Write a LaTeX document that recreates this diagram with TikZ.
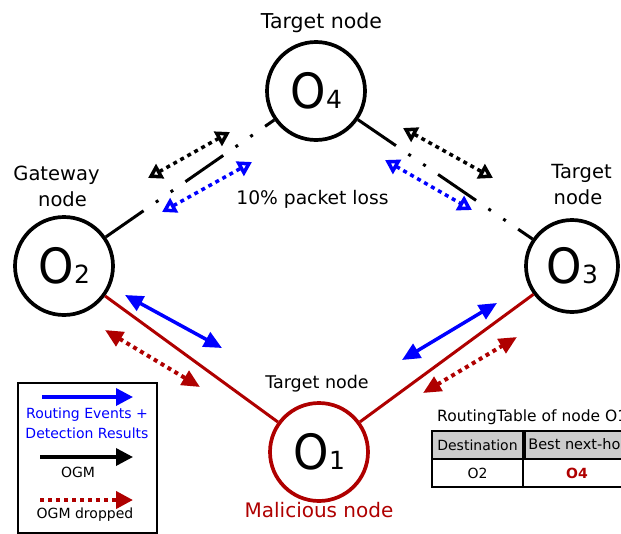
\documentclass[tikz,border=0pt]{standalone}
\usepackage{fontspec}
\setmainfont{DejaVu Sans}
\usetikzlibrary{arrows.meta}
\definecolor{dred}{RGB}{175,0,0}
\definecolor{pblue}{RGB}{0,0,255}
\definecolor{hgray}{RGB}{204,204,204}
\newcommand\onum[1]{{\fontsize{45}{45}\selectfont\scalebox{1}[1.08]{O}}\kern0.5pt{\fontsize{25}{25}\selectfont #1}}
\begin{document}
\begin{tikzpicture}[x=1pt,y=-1pt,
  onode/.style={circle, draw, line width=3.7pt, minimum size=98pt, inner sep=0pt},
  lbl/.style={font=\fontsize{19.5}{22}\selectfont, anchor=base, inner sep=0pt},
  link/.style={line width=3pt, dash pattern=on 46pt off 15pt on 3pt off 15pt on 3pt off 15pt},
  redlink/.style={draw=dred, line width=3pt},
  openarr/.style={line width=3.5pt, dash pattern=on 4pt off 4pt,
     {Triangle[open,length=14pt,width=16pt]}-{Triangle[open,length=14pt,width=16pt]}},
  solidarr/.style={draw=pblue, line width=3.5pt,
     {Triangle[length=18pt,width=16pt]}-{Triangle[length=18pt,width=16pt]}},
  reddot/.style={draw=dred, line width=4pt, dash pattern=on 4pt off 4pt,
     {Triangle[length=18pt,width=16pt]}-{Triangle[length=18pt,width=16pt]}},
  leglbl/.style={font=\fontsize{14}{16}\selectfont, anchor=base, inner sep=0pt},
  cell/.style={draw, line width=2.5pt, inner sep=0pt, font=\fontsize{14}{16}\selectfont, minimum height=28pt}
]
\useasboundingbox (0,0) rectangle (621,533);
\clip (0,0) rectangle (621,533);

% nodes
\node[onode] (o4) at (316,91) {\onum{4}};
\node[onode] (o2) at (64,266) {\onum{2}};
\node[onode, minimum size=92pt] (o3) at (572,266) {\onum{3}};
\node[onode, draw=dred] (o1) at (319,452) {\onum{1}};

% links
\draw[link] (o2) -- (o4);
\draw[link] (o4) -- (o3);
\draw[redlink] (o2) -- (o1);
\draw[redlink] (o3) -- (o1);

% labels
\node[lbl, font=\fontsize{20.5}{22}\selectfont] (t4) at (321.5,28) {Target node};
\node[lbl] (g1) at (56.5,180) {Gateway};
\node[lbl] (g2) at (62.5,206) {node};
\node[lbl] (t3a) at (581.5,178) {Target};
\node[lbl] (t3b) at (578,204) {node};
\node[lbl, font=\fontsize{17.5}{20}\selectfont] (t1) at (317,388) {Target node};
\node[lbl, font=\fontsize{20}{22}\selectfont, text=dred] (mal) at (319,517) {Malicious node};
\node[lbl, font=\fontsize{18.7}{22}\selectfont] (loss) at (312.5,204) {10\% packet loss};

% message arrows
\coordinate (a1s) at (148,178); \coordinate (a1e) at (230,132);
\draw[openarr] (a1s) -- (a1e);
\coordinate (a2s) at (162,212); \coordinate (a2e) at (252,162);
\draw[openarr, draw=pblue] (a2s) -- (a2e);
\coordinate (a3s) at (403,128); \coordinate (a3e) at (493,178);
\draw[openarr] (a3s) -- (a3e);
\coordinate (a4s) at (385,160); \coordinate (a4e) at (472,210);
\draw[openarr, draw=pblue] (a4s) -- (a4e);
\coordinate (b1s) at (125,295); \coordinate (b1e) at (222,348);
\draw[solidarr] (b1s) -- (b1e);
\coordinate (b2s) at (105,330); \coordinate (b2e) at (200,387);
\draw[reddot] (b2s) -- (b2e);
\coordinate (b3s) at (402,360); \coordinate (b3e) at (497,303);
\draw[solidarr] (b3s) -- (b3e);
\coordinate (b4s) at (423,393); \coordinate (b4e) at (517,337);
\draw[reddot] (b4s) -- (b4e);

% legend
\node[draw, line width=2pt, minimum width=139pt, minimum height=150pt, inner sep=0pt] (leg) at (87.5,457.5) {};
\coordinate (l1s) at (42,397); \coordinate (l1e) at (133,397);
\draw[draw=pblue, line width=3.5pt, -{Triangle[length=17pt,width=17pt]}] (l1s) -- (l1e);
\node[leglbl, text=pblue] (lt1) at (87,418) {Routing Events +};
\node[leglbl, text=pblue] (lt2) at (87,438) {Detection Results};
\coordinate (l2s) at (40,457); \coordinate (l2e) at (133,457);
\draw[line width=3.5pt, -{Triangle[length=17pt,width=17pt]}] (l2s) -- (l2e);
\node[leglbl] (lt3) at (78,477) {OGM};
\coordinate (l3s) at (40,500); \coordinate (l3e) at (133,500);
\draw[draw=dred, line width=4pt, dash pattern=on 4pt off 4pt, -{Triangle[length=17pt,width=17pt]}] (l3s) -- (l3e);
\node[leglbl] (lt4) at (85,518.5) {OGM dropped};

% routing table
\node[anchor=base west, inner sep=0pt, font=\fontsize{15.5}{18}\selectfont] (ttl) at (437,421) {RoutingTable of node O1};
\node[cell, fill=hgray, minimum width=91pt] (h1) at (477.5,445) {Destination};
\node[cell, fill=hgray, minimum width=108pt, font=\fontsize{14.5}{16}\selectfont] (h2) at (579,445) {Best next-hop};
\node[cell, minimum width=91pt] (r1) at (477.5,473) {O2};
\node[cell, minimum width=108pt, text=dred, font=\fontsize{14}{16}\selectfont\bfseries] (r2) at (577,473) {O4};
\end{tikzpicture}
\end{document}
